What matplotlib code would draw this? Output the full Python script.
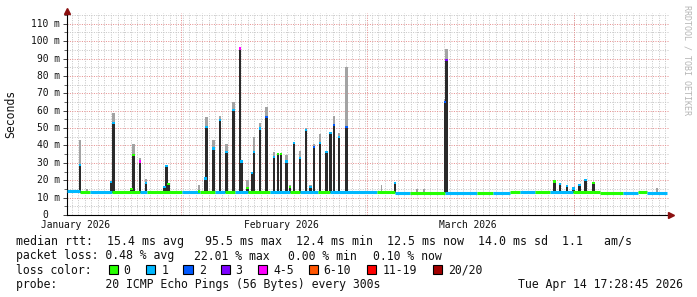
import matplotlib
matplotlib.use('Agg')
import matplotlib.pyplot as plt
import matplotlib.transforms as mtransforms
from matplotlib.patches import Rectangle
import numpy as np

# ---------------- data (days since 2026-01-01, values in ms) ----------------
seg_start = [-1.26, 0.69, 2.19, 5.50, 9.71, 10.76, 16.02, 18.72, 20.98, 22.49,
             23.99, 25.94, 29.25, 32.25, 33.76, 36.47, 38.27, 45.33, 48.03, 50.29,
             55.55, 60.36, 62.76, 65.32, 66.82, 69.07, 71.33, 74.79, 78.85, 82.30,
             84.56, 85.91]
seg_end = [0.69, 2.19, 5.50, 9.71, 10.76, 16.02, 18.72, 20.98, 22.49, 23.99,
           25.94, 29.25, 32.25, 33.76, 36.47, 38.27, 45.33, 48.03, 50.29, 55.55,
           60.36, 62.76, 65.32, 66.82, 69.07, 71.33, 74.79, 78.85, 82.30, 84.56,
           85.91, 88.92]
seg_median = [13.8, 13.2, 13.4, 13.2, 13.4, 13.2, 13.4, 13.2, 13.3, 13.2,
              13.3, 13.2, 13.3, 13.2, 13.3, 13.2, 13.3, 13.2, 12.6, 12.4,
              12.5, 12.8, 12.8, 13.0, 13.0, 13.0, 13.0, 13.0, 12.7, 12.6,
              13.0, 12.5]
seg_loss = [1, 0, 1, 0, 1, 0, 1, 0, 1, 0, 1, 0, 1, 0, 1, 0, 1, 0, 1, 0,
            1, 0, 1, 0, 1, 0, 1, 0, 0, 1, 0, 1]

spike_day = [0.69, 5.35, 5.70, 8.43, 8.70, 9.71, 10.61, 13.36, 13.72, 13.96,
             18.58, 19.55, 19.73, 20.72, 21.73, 22.74, 23.79, 24.74, 24.93, 25.83,
             26.54, 26.84, 27.74, 28.75, 29.85, 30.45, 30.90, 31.76,
             32.25, 32.85, 33.76, 34.67, 35.36, 35.86, 36.76, 37.77, 38.37, 38.86,
             39.61, 40.77,
             48.03, 55.55, 55.77,
             72.0, 72.85, 73.9, 74.9, 75.8, 76.7, 77.9]
spike_median = [28.8, 19.0, 52.7, 15.0, 34.5, 30.7, 18.2, 16.3, 28.2, 17.7,
                13.5, 21.0, 50.8, 38.3, 54.6, 36.4, 60.4, 95.8, 30.7, 15.5,
                24.0, 36.4, 49.8, 56.5, 33.5, 35.0, 35.0, 30.7,
                16.0, 41.2, 32.6, 48.9, 16.0, 39.3, 41.2, 36.4, 47.0, 51.7,
                44.7, 50.8,
                18.6, 65.2, 89.1,
                19.2, 17.8, 16.7, 15.3, 17.3, 20.1, 18.6]
spike_max = [43, 19.5, 58.6, 15.5, 41, 33, 20.5, 16.5, 29, 18,
             17, 21.5, 56.5, 43, 57, 41, 65, 96.5, 31, 20,
             24.5, 45, 52.7, 62, 36, 35.5, 35.5, 34.5,
             17, 42, 37, 50, 17, 41, 46.6, 37, 47.5, 57,
             47, 85.3,
             19, 67, 95.3,
             19.5, 18, 17, 15.5, 17.5, 20.5, 19]
spike_loss = [1, 1, 1, 0, 0, 4, 1, 1, 1, 0,
              0, 1, 1, 1, 1, 1, 1, 4, 1, 0,
              1, 1, 1, 2, 1, 0, 0, 1,
              0, 1, 1, 1, 1, 2, 1, 1, 1, 2,
              1, 2,
              1, 2, 3,
              0, 1, 1, 1, 1, 1, 0]

blip_day = [1.75, 46.0, 51.3, 52.4, 87.4]
blip_max = [15, 17, 15, 15, 15.5]

month_days = [0, 31, 59]
month_labels = ['January 2026', 'February 2026', 'March 2026']
y_ticks = [0, 10, 20, 30, 40, 50, 60, 70, 80, 90, 100, 110]

loss_colors = ['#26ff00', '#00b8ff', '#0059ff', '#7e00ff', '#ff00ff',
               '#ff5500', '#ff0000', '#a10000']
loss_labels = ['0', '1', '2', '3', '4-5', '6-10', '11-19', '20/20']

legend_row1 = 'median rtt:  15.4 ms avg   95.5 ms max  12.4 ms min  12.5 ms now  14.0 ms sd  1.1   am/s'
legend_row2 = ['packet loss: 0.48 % avg', '22.01 % max', '0.00 % min', '0.10 % now']
probe_text = 'probe:       20 ICMP Echo Pings (56 Bytes) every 300s'
date_text = 'Tue Apr 14 17:28:45 2026'

# ---------------- layout ----------------
W, H = 697, 297
fig = plt.figure(figsize=(W / 100, H / 100), dpi=100)
fig.patch.set_facecolor('white')
MONO = 'DejaVu Sans Mono'


def fx(px):
    return px / W


def fy(py):
    return 1 - py / H


ax = fig.add_axes([fx(67), fy(215), (671 - 67) / W, (215 - 10) / H])
x0, x1 = -1.262, 89.52
ytop = 117.9
ax.set_xlim(x0, x1)
ax.set_ylim(0, ytop)
ax.set_facecolor('white')
for s in ['top', 'right']:
    ax.spines[s].set_visible(False)
for s in ['left', 'bottom']:
    ax.spines[s].set_color('#000000')
    ax.spines[s].set_linewidth(0.8)

# grid
grid_right = 89.2
grid_top = 116.2
gx = np.arange(74.93 - 0.98 * 80, grid_right, 0.98)
gx = gx[gx > x0 + 0.3]
ax.vlines(gx, 0, grid_top, colors='#c8c8c8', linewidth=0.72,
          linestyles=(0, (1, 1.4)), zorder=0)
ax.hlines(np.arange(5, 116, 10), x0, grid_right, colors='#c8c8c8', linewidth=0.72,
          linestyles=(0, (1, 1.4)), zorder=0)
ax.hlines(np.arange(10, 111, 10), x0, grid_right, colors='#e69090', linewidth=0.72,
          linestyles=(0, (1, 1.4)), zorder=0.5)
ax.vlines([15.87, 43.82, 74.93], 0, grid_top, colors='#e69090', linewidth=0.72,
          linestyles=(0, (1, 1.4)), zorder=0.5)

# smoke blips
base = 12.6
ax.bar(blip_day, np.array(blip_max) - base, bottom=base, width=0.25,
       color='#a0a0a0', linewidth=0, zorder=1)

# spikes
sd = np.array(spike_day)
sm = np.array(spike_median)
sx = np.array(spike_max)
ax.bar(sd, sx - sm, bottom=sm, width=0.38, color='#a3a3a3', linewidth=0, zorder=2)
ax.bar(sd, sm - base, bottom=base, width=0.38, color='#2a2a2a', linewidth=0, zorder=2)

# baseline median
ax.hlines(seg_median, seg_start, seg_end,
          colors=[loss_colors[l] for l in seg_loss], linewidth=2.2, zorder=3)

# spike median markers
ax.bar(sd, 1.3, bottom=sm - 0.65, width=0.42,
       color=[loss_colors[l] for l in spike_loss], linewidth=0, zorder=4)

# arrows
ax.plot([x0], [ytop - 0.3], marker='^', color='#8b1010', markersize=4.5,
        clip_on=False, zorder=6)
ax.plot([x1], [0], marker='>', color='#8b1010', markersize=4.5,
        clip_on=False, zorder=6)

# ticks
ax.set_yticks(y_ticks)
ax.set_yticks(np.arange(5, 116, 10), minor=True)
ax.set_xticks([])
ax.tick_params(axis='y', which='major', length=3, width=0.7, color='#444444',
               labelleft=False)
ax.tick_params(axis='y', which='minor', length=2, width=0.7, color='#666666',
               labelleft=False)

# y tick labels
ty = mtransforms.blended_transform_factory(fig.transFigure, ax.transData)
for v in y_ticks:
    if v == 0:
        fig.text(fx(48.6), v, '0', transform=ty, ha='right', va='center',
                 family=MONO, fontsize=6.9, color='#111111')
    else:
        fig.text(fx(60), v, f'{v} m', transform=ty, ha='right', va='center',
                 family=MONO, fontsize=6.9, color='#111111')

# x labels
tx = mtransforms.blended_transform_factory(ax.transData, fig.transFigure)
for d, lab in zip(month_days, month_labels):
    ax.text(d, fy(225.5), lab, transform=tx, ha='center', va='center',
            family=MONO, fontsize=6.9, color='#111111')

# axis label
fig.text(fx(11), fy(114), 'Seconds', rotation=90, ha='center', va='center',
         family=MONO, fontsize=8.3, color='#111111')

# watermark
fig.text(fx(687.5), fy(60), 'RRDTOOL / TOBI OETIKER', rotation=-90,
         ha='center', va='center', family=MONO, fontsize=6.0, color='#b5b5b5')

# legend
fig.text(fx(16), fy(245), legend_row1, ha='left', va='baseline', family=MONO,
         fontsize=8.35, color='#111111')
row2_x = [16, 194, 288, 373]
for x, t in zip(row2_x, legend_row2):
    fig.text(fx(x), fy(259.5), t, ha='left', va='baseline', family=MONO,
             fontsize=8.3, color='#111111')

fig.text(fx(16), fy(273.5), 'loss color:', ha='left', va='baseline', family=MONO,
         fontsize=8.3, color='#111111')
sw_x = [108.5, 146, 183.5, 220.5, 258, 308.5, 367.4, 432.6]
for x, c, lab in zip(sw_x, loss_colors, loss_labels):
    fig.add_artist(Rectangle((fx(x), fy(274)), 9 / W, 9 / H, transform=fig.transFigure,
                             facecolor=c, edgecolor='black', linewidth=0.8))
    fig.text(fx(x + 15.2), fy(273.5), lab, ha='left', va='baseline', family=MONO,
             fontsize=8.3, color='#111111')

fig.text(fx(16), fy(288), probe_text, ha='left', va='baseline', family=MONO,
         fontsize=8.3, color='#111111')
fig.text(fx(683), fy(288), date_text, ha='right', va='baseline', family=MONO,
         fontsize=8.3, color='#111111')

fig.savefig('out.png', dpi=100, facecolor='white')
